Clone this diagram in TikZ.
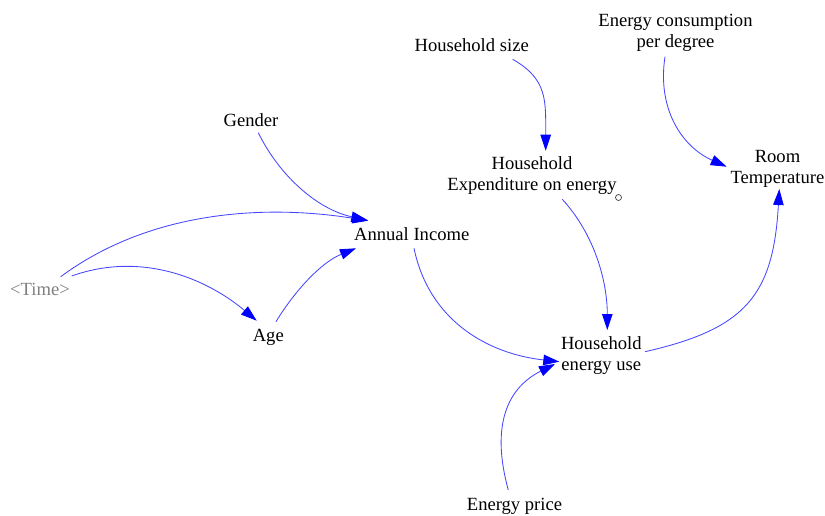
\documentclass[tikz,border=0pt]{standalone}
\usepackage{fontspec}
\setmainfont{Liberation Serif}
\usetikzlibrary{arrows.meta}
\definecolor{linkblue}{RGB}{70,70,255}
\definecolor{shadowgray}{RGB}{128,128,128}
\begin{document}
\begin{tikzpicture}[x=1pt,y=-1pt,
  var/.style={align=center,inner sep=0pt,font=\fontsize{18.6}{21}\selectfont},
  shadowvar/.style={var,text=shadowgray},
  link/.style={draw=linkblue,line width=0.85pt,
    -{Triangle[length=16pt,width=10.5pt,color=blue]}},
]
\useasboundingbox (0,0) rectangle (825,516);

% variables
\node[var] (hs)   at (471.7,45.3)  {Household size};
\node[var] (ecpd) at (675.5,33)    {Energy consumption\\per degree};
\node[var] (gen)  at (251,120)     {Gender};
\node[var] (he)   at (532,176)     {Household\\Expenditure on energy};
\node[var] (rt)   at (777.5,169)   {Room\\Temperature};
\node[var] (ai)   at (411.7,234)   {Annual Income};
\node[shadowvar] (time) at (40,289) {<Time>};
\node[var] (age)  at (268.3,337.7) {Age};
\node[var] (heu)  at (601.3,355.4) {Household\\energy use};
\node[var] (ep)   at (514.5,506)   {Energy price};

% small marker beside the expenditure variable
\node[draw=black!75,circle,line width=0.7pt,minimum size=6pt,inner sep=0pt] (mark) at (618.5,197.5) {};

% causal links
\draw[link] ([shift={(41,14)}]hs.center)
  .. controls +(35,20) and +(0,-50) .. ([shift={(13.7,-25.3)}]he.center);
\draw[link] ([shift={(-10.5,23.7)}]ecpd.center)
  .. controls +(-8,52) and +(-45,-20) .. ([shift={(-50.8,-2.3)}]rt.center);
\draw[link] ([shift={(7.3,12.7)}]gen.center)
  .. controls +(22,45) and +(-48,-10) .. ([shift={(-44.4,-14)}]ai.center);
\draw[link] ([shift={(20.7,-12.3)}]time.center)
  .. controls +(87.3,-64.6) and +(-107.3,-17) .. ([shift={(-43.4,-13.3)}]ai.center);
\draw[link] ([shift={(31.7,-13)}]time.center)
  .. controls +(70,-25) and +(-50,-42) .. ([shift={(-11.6,-17)}]age.center);
\draw[link] ([shift={(7.7,-16)}]age.center)
  .. controls +(19.3,-31.7) and +(-34.4,13.9) .. ([shift={(-55.7,14.3)}]ai.center);
\draw[link] ([shift={(2.3,14.3)}]ai.center)
  .. controls +(15,72) and +(-72,-8) .. ([shift={(-42,6.3)}]heu.center);
\draw[link] ([shift={(30.3,23.3)}]he.center)
  .. controls +(33,36) and +(0,-47.4) .. ([shift={(6,-25.4)}]heu.center);
\draw[link] ([shift={(43.7,-3.7)}]heu.center)
  .. controls +(102,-23) and +(-6,105) .. ([shift={(1.8,20)}]rt.center);
\draw[link] ([shift={(-6.2,-16)}]ep.center)
  .. controls +(-16,-58) and +(-52,26) .. ([shift={(-46.3,8.6)}]heu.center);
\end{tikzpicture}
\end{document}
